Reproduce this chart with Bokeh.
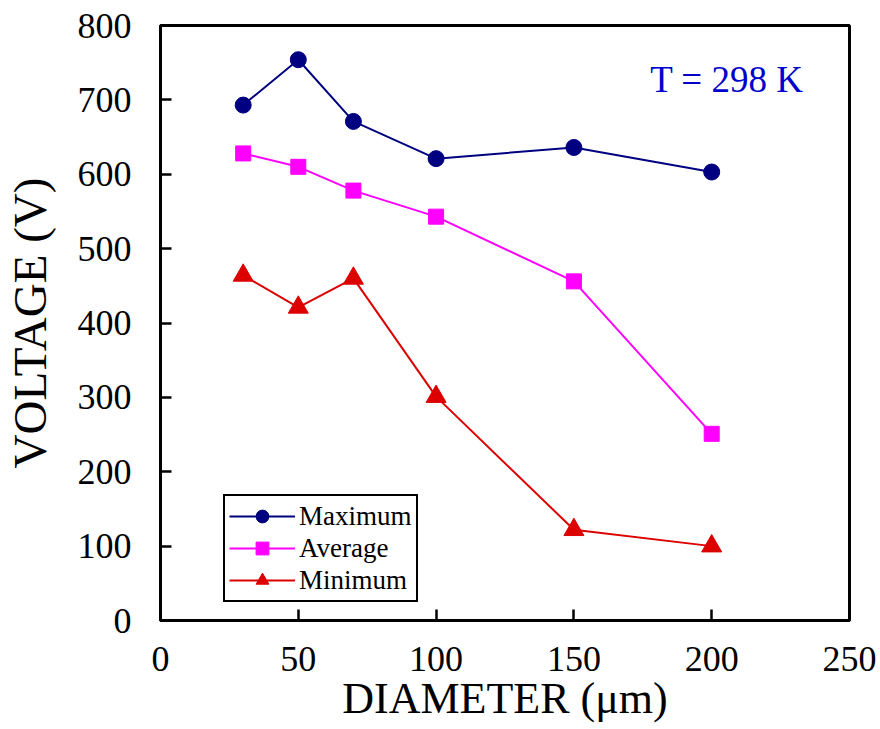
from bokeh.plotting import figure
from bokeh.models import Range1d, FixedTicker, Legend, LegendItem, Label
from bokeh.embed import file_html
from bokeh.resources import INLINE

diameter = [30, 50, 70, 100, 150, 200]
v_max = [693, 754, 671, 621, 636, 603]
v_avg = [628, 610, 578, 543, 456, 251]
v_min = [464, 421, 460, 301, 122, 100]
x_ticks = [0, 50, 100, 150, 200, 250]
y_ticks = [0, 100, 200, 300, 400, 500, 600, 700, 800]

FONT = "'Liberation Serif', 'Times New Roman', serif"

p = figure(width=880, height=729, output_backend="svg", toolbar_location=None,
           x_range=Range1d(0, 250), y_range=Range1d(0, 800),
           min_border_left=159, min_border_right=31, min_border_top=25, min_border_bottom=109)
p.xgrid.visible = False
p.ygrid.visible = False
p.outline_line_color = "black"
p.outline_line_width = 3
p.outline_line_alpha = 1
p.background_fill_color = "white"
p.border_fill_color = "white"

for ax, ticks in ((p.xaxis[0], x_ticks), (p.yaxis[0], y_ticks)):
    ax.ticker = FixedTicker(ticks=ticks)
    ax.minor_tick_line_color = None
    ax.major_tick_in = 11
    ax.major_tick_out = 0
    ax.major_tick_line_width = 2.5
    ax.axis_line_width = 3
    ax.axis_line_color = "black"
    ax.major_tick_line_color = "black"
    ax.major_label_text_font = FONT
    ax.major_label_text_font_style = "normal"
    ax.major_label_text_font_size = "36px"
    ax.major_label_text_color = "black"
    ax.axis_label_text_font = FONT
    ax.axis_label_text_font_style = "normal"
    ax.axis_label_text_color = "black"

p.xaxis.axis_label = "DIAMETER (\u03bcm)"
p.yaxis.axis_label = "VOLTAGE (V)"
p.xaxis.axis_label_text_font_size = "44px"
p.yaxis.axis_label_text_font_size = "47px"
p.xaxis.major_label_standoff = 26
p.xaxis.axis_label_standoff = 0
p.yaxis.major_label_standoff = 29
p.yaxis.axis_label_standoff = 19

navy = "#000080"
mag = "#FF00FF"
red = "#DD0000"

l1 = p.line(diameter, v_max, line_color=navy, line_width=2)
m1 = p.scatter(diameter, v_max, marker="circle", size=16, fill_color=navy, line_color=navy)
l2 = p.line(diameter, v_avg, line_color=mag, line_width=2)
m2 = p.scatter(diameter, v_avg, marker="square", size=15, fill_color=mag, line_color=mag)
l3 = p.line(diameter, v_min, line_color=red, line_width=2)
m3 = p.scatter(diameter, v_min, marker="triangle", size=20, fill_color=red, line_color=red)

legend = Legend(items=[
    LegendItem(label="Maximum", renderers=[l1, m1]),
    LegendItem(label="Average", renderers=[l2, m2]),
    LegendItem(label="Minimum", renderers=[l3, m3]),
], location=(63, 18))
legend.label_text_font = FONT
legend.label_text_font_style = "normal"
legend.label_text_font_size = "27px"
legend.label_text_color = "black"
legend.glyph_width = 66
legend.glyph_height = 32
legend.label_height = 32
legend.spacing = 0
legend.padding = 4
legend.margin = 0
legend.label_standoff = 4
legend.border_line_color = "black"
legend.border_line_alpha = 1
legend.border_line_width = 2
legend.background_fill_alpha = 1
p.add_layout(legend)

lab = Label(x=205.5, y=727, text="T = 298 K", text_font=FONT, text_font_size="37px",
            text_color="#0000CC", text_align="center", text_baseline="middle")
p.add_layout(lab)

open("out.html", "w").write(file_html(p, INLINE))
